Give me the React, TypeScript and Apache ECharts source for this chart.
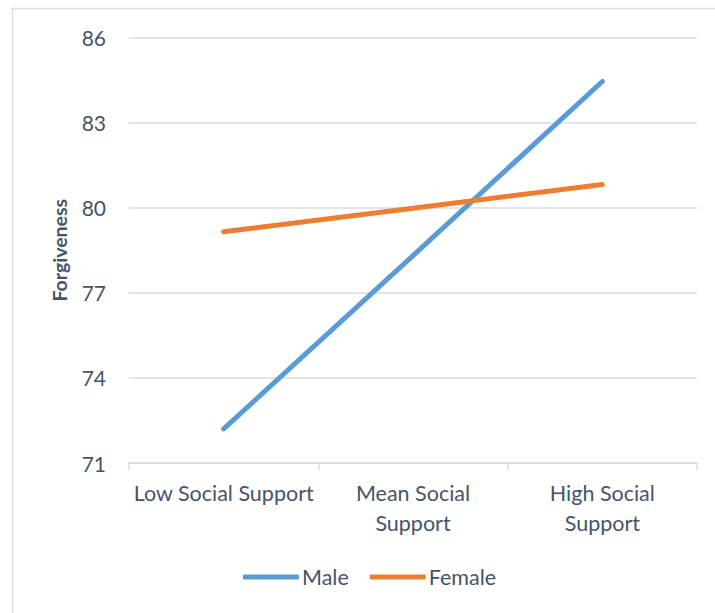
import React, { useEffect, useRef } from "react";
import * as echarts from "echarts";

const categories = ["Low Social Support", "Mean Social\nSupport", "High Social\nSupport"];
const maleValues = [72.2, 78.31, 84.45];
const femaleValues = [79.15, 79.98, 80.82];
const yTicks = { min: 71, max: 86, interval: 3 };

const TEXT = "#44546A";
const GRID = "#D9DDE3";
const FONT = "Lato, 'Open Sans', sans-serif";

export default function App() {
  const ref = useRef<HTMLDivElement>(null);
  useEffect(() => {
    if (!ref.current) return;
    const chart = echarts.init(ref.current, undefined, { renderer: "svg" });
    chart.setOption({
      animation: false,
      backgroundColor: "#FFFFFF",
      textStyle: { fontFamily: FONT },
      graphic: [
        {
          type: "rect",
          shape: { x: 12.5, y: 8.5, width: 720, height: 620 },
          style: { fill: "none", stroke: GRID, lineWidth: 1.5 },
          silent: true,
          z: -10,
        },
      ],
      grid: { left: 129, right: 18, top: 37.5, bottom: 150 },
      legend: {
        left: 238,
        top: 561,
        icon: "roundRect",
        itemWidth: 56,
        itemHeight: 5,
        itemGap: 21,
        textStyle: { color: TEXT, fontSize: 21.5, fontFamily: FONT, padding: [0, 0, 0, -2] },
        data: ["Male", "Female"],
      },
      xAxis: {
        type: "category",
        data: categories,
        boundaryGap: true,
        axisLine: { show: true, lineStyle: { color: GRID, width: 1.5 } },
        axisTick: { show: true, length: 7, lineStyle: { color: GRID, width: 1.5 } },
        axisLabel: {
          color: TEXT,
          fontSize: 21.5,
          fontFamily: FONT,
          margin: 15,
          lineHeight: 30,
          interval: 0,
        },
      },
      yAxis: {
        type: "value",
        min: yTicks.min,
        max: yTicks.max,
        interval: yTicks.interval,
        name: "Forgiveness",
        nameLocation: "middle",
        nameRotate: 90,
        nameGap: 60,
        nameTextStyle: { color: TEXT, fontSize: 19.5, fontWeight: "bold", fontFamily: FONT },
        axisLine: { show: false },
        axisTick: { show: false },
        axisLabel: { color: TEXT, fontSize: 21, fontFamily: FONT, margin: 23 },
        splitLine: { lineStyle: { color: GRID, width: 1.5 } },
      },
      series: [
        {
          name: "Male",
          type: "line",
          data: maleValues,
          showSymbol: false,
          symbol: "none",
          color: "#5B9BD5",
          lineStyle: { width: 5, color: "#5B9BD5", cap: "round" },
        },
        {
          name: "Female",
          type: "line",
          data: femaleValues,
          showSymbol: false,
          symbol: "none",
          color: "#ED7D31",
          lineStyle: { width: 5, color: "#ED7D31", cap: "round" },
        },
      ],
    });
    return () => chart.dispose();
  }, []);
  return (
    <div
      ref={ref}
      style={{ position: "absolute", left: 0, top: 0, width: 715, height: 613 }}
    />
  );
}
